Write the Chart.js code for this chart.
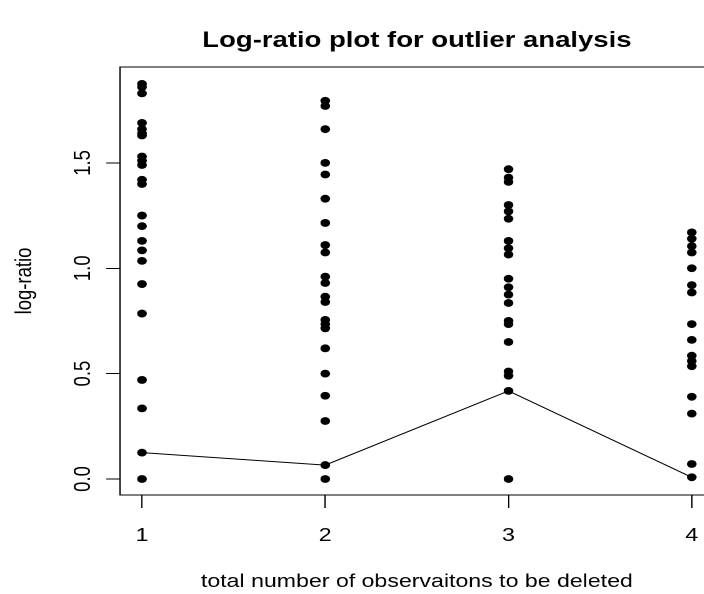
<!DOCTYPE html>
<html>
<head>
<meta charset="utf-8">
<script src="https://cdn.jsdelivr.net/npm/chart.js@4.4.0/dist/chart.umd.min.js"></script>
<style>
    body { margin: 0; background: #fff; }
    #wrap { width: 704px; height: 594px; overflow: hidden; background: #fff; }
    /* the reference picture is stretched sideways, so the canvas is too */
    #stretch { width: 585px; height: 594px; transform: scaleX(1.25); transform-origin: 0 0; }
</style>
</head>
<body>
<div id="wrap"><div id="stretch"><canvas id="plot" width="585" height="594"></canvas></div></div>
<script>
const xCategories = [1, 2, 3, 4];
const xTicks = [1, 2, 3, 4];
const yTicks = [0, 0.5, 1.0, 1.5];

// log-ratio values for each number of deleted observations
const ratios1 = [1.875, 1.86, 1.83, 1.69, 1.66, 1.64, 1.63, 1.53, 1.51, 1.49, 1.42, 1.40,
    1.25, 1.20, 1.13, 1.085, 1.035, 0.925, 0.785, 0.47, 0.335, 0.125, 0.0];
const ratios2 = [1.795, 1.77, 1.66, 1.50, 1.445, 1.33, 1.215, 1.11, 1.075, 0.96, 0.93,
    0.865, 0.84, 0.755, 0.735, 0.715, 0.62, 0.50, 0.395, 0.275, 0.066, 0.0];
const ratios3 = [1.47, 1.43, 1.41, 1.30, 1.27, 1.235, 1.13, 1.095, 1.065, 0.95, 0.91,
    0.875, 0.835, 0.75, 0.735, 0.65, 0.51, 0.49, 0.418, 0.0];
const ratios4 = [1.17, 1.14, 1.105, 1.075, 1.00, 0.92, 0.885, 0.735, 0.66, 0.585, 0.56,
    0.535, 0.39, 0.31, 0.071, 0.008];

// median line
const medians = [0.125, 0.066, 0.418, 0.008];

const allRatios = [ratios1, ratios2, ratios3, ratios4];
const pointData = [];
allRatios.forEach((list, i) => {
    list.forEach(v => pointData.push({ x: xCategories[i], y: v }));
});
const lineData = medians.map((v, i) => ({ x: xCategories[i], y: v }));

const FONT = 'Liberation Sans, Arial, sans-serif';

// box round the plot region plus the main title over it
const boxAndTitle = {
    id: 'boxAndTitle',
    afterDraw(chart) {
        const { ctx, chartArea } = chart;
        ctx.save();
        ctx.strokeStyle = '#000';
        ctx.lineWidth = 1;
        ctx.strokeRect(chartArea.left, chartArea.top, chartArea.right - chartArea.left, chartArea.bottom - chartArea.top);
        ctx.fillStyle = '#000';
        ctx.font = 'bold 22px ' + FONT;
        ctx.textAlign = 'center';
        ctx.textBaseline = 'middle';
        ctx.fillText('Log-ratio plot for outlier analysis', (chartArea.left + chartArea.right) / 2, 41);
        ctx.restore();
    }
};

new Chart(document.getElementById('plot'), {
    type: 'scatter',
    data: {
        datasets: [{
            data: pointData,
            backgroundColor: '#000',
            borderColor: '#000',
            pointRadius: 3.9,
            pointHoverRadius: 3.9,
            borderWidth: 0
        }, {
            type: 'line',
            data: lineData,
            borderColor: '#000',
            borderWidth: 1,
            pointRadius: 0,
            fill: false,
            tension: 0
        }]
    },
    options: {
        responsive: false,
        animation: false,
        devicePixelRatio: 2,
        layout: { padding: { top: 67, right: 14, left: 0, bottom: 0 } },
        plugins: {
            legend: { display: false },
            tooltip: { enabled: false },
            title: { display: false }
        },
        scales: {
            x: {
                type: 'linear',
                min: 0.88,
                max: 4.12,
                afterBuildTicks: scale => { scale.ticks = xTicks.map(v => ({ value: v })); },
                afterFit: scale => { scale.height = 99; },
                border: { display: false },
                grid: { drawOnChartArea: false, drawTicks: true, tickLength: 13, color: '#000' },
                ticks: {
                    color: '#000',
                    padding: 17,
                    maxRotation: 0,
                    font: { family: FONT, size: 18.5 },
                    callback: v => String(v)
                },
                title: {
                    display: true,
                    text: 'total number of observaitons to be deleted',
                    color: '#000',
                    font: { family: FONT, size: 18.5 },
                    padding: { top: 0, bottom: 1 }
                }
            },
            y: {
                min: -0.076,
                max: 1.955,
                afterBuildTicks: scale => { scale.ticks = yTicks.map(v => ({ value: v })); },
                afterFit: scale => { scale.width = 96; },
                border: { display: false },
                grid: { drawOnChartArea: false, drawTicks: true, tickLength: 11, color: '#000' },
                ticks: {
                    color: '#000',
                    padding: 5,
                    minRotation: 90,
                    maxRotation: 90,
                    crossAlign: 'center',
                    font: { family: FONT, size: 18.5 },
                    callback: v => Number(v).toFixed(1)
                },
                title: {
                    display: true,
                    text: 'log-ratio',
                    color: '#000',
                    font: { family: FONT, size: 18.5 },
                    padding: { top: 9, bottom: 0 }
                }
            }
        }
    },
    plugins: [boxAndTitle]
});
</script>
</body>
</html>
